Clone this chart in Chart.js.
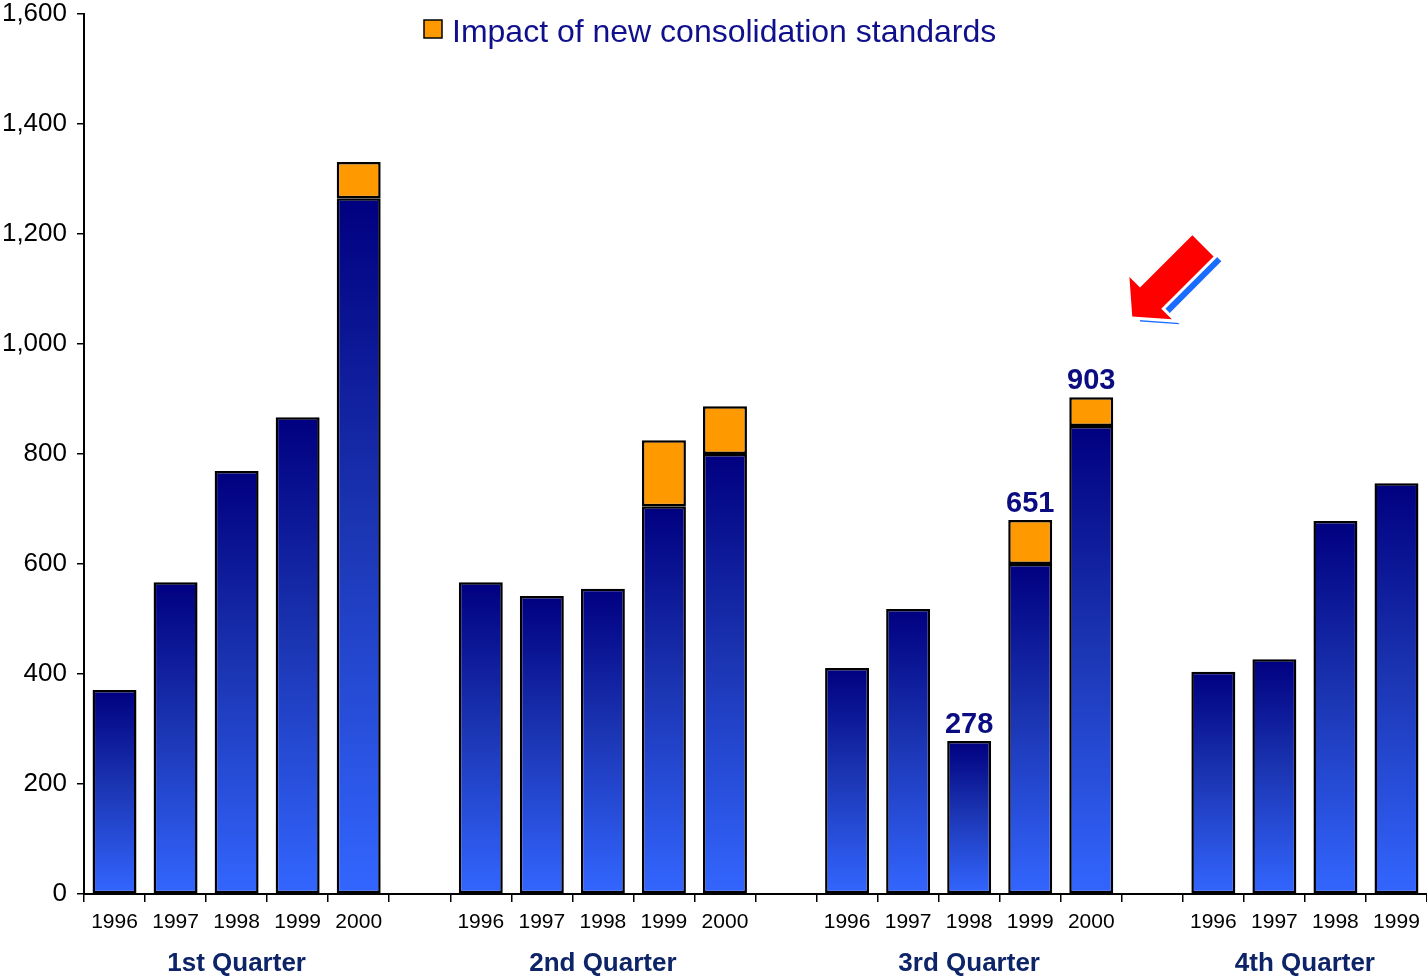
<!DOCTYPE html>
<html>
<head>
<meta charset="utf-8">
<script src="https://cdn.jsdelivr.net/npm/chart.js@4/dist/chart.umd.min.js"></script>
<style>
  html, body { margin: 0; padding: 0; background: #fff; }
  #wrap { width: 1427px; height: 978px; position: relative; }
</style>
</head>
<body>
<div id="wrap"><canvas id="myChart"></canvas></div>
<script>
// categories: 4 quarters x years, empty slots are the gaps between quarters
const years = ["1996", "1997", "1998", "1999", "2000", "",
               "1996", "1997", "1998", "1999", "2000", "",
               "1996", "1997", "1998", "1999", "2000", "",
               "1996", "1997", "1998", "1999"];
const quarters = ["1st Quarter", "2nd Quarter", "3rd Quarter", "4th Quarter"];
const quarterSpans = [[0, 4], [6, 10], [12, 16], [18, 21]];

const baseValues = [371, 567, 769, 867, 1265, null,
                    567, 542, 555, 705, 800, null,
                    411, 518, 278, 600, 851, null,
                    404, 427, 678, 747];
const impactValues = [null, null, null, null, 66, null,
                      null, null, null, 120, 87, null,
                      null, null, null, 80, 52, null,
                      null, null, null, null];
const valueLabels = [null, null, null, null, null, null,
                     null, null, null, null, null, null,
                     null, null, "278", "651", "903", null,
                     null, null, null, null];
const yTicks = [0, 200, 400, 600, 800, 1000, 1200, 1400, 1600];

const FONT = "'Liberation Sans', Arial, sans-serif";
const NAVY = "#0c0c82";

function blueGradient(context) {
  const chart = context.chart;
  const area = chart.chartArea;
  if (!area || context.raw == null) return "#3366ff";
  const y = chart.scales.y;
  const top = y.getPixelForValue(context.raw);
  const base = y.getPixelForValue(0);
  const g = chart.ctx.createLinearGradient(0, top, 0, base);
  g.addColorStop(0, "#000080");
  g.addColorStop(0.45, "#1a33b0");
  g.addColorStop(1, "#3366ff");
  return g;
}

// quarter names, value labels, legend and the arrow
const extras = {
  id: "extras",
  afterDraw(chart) {
    const c = chart.ctx;
    const x = chart.scales.x, y = chart.scales.y;
    const area = chart.chartArea;
    c.save();

    // quarter names under the years
    c.font = "bold 26px " + FONT;
    c.fillStyle = "#0d2468";
    c.textAlign = "center";
    c.textBaseline = "middle";
    quarterSpans.forEach((s, i) => {
      const cx = (x.getPixelForValue(s[0]) + x.getPixelForValue(s[1])) / 2;
      c.fillText(quarters[i], cx, area.bottom + 70);
    });

    // value labels above stacks
    c.font = "bold 29px " + FONT;
    c.fillStyle = NAVY;
    c.textBaseline = "alphabetic";
    valueLabels.forEach((lab, i) => {
      if (!lab) return;
      const total = (baseValues[i] || 0) + (impactValues[i] || 0);
      c.fillText(lab, x.getPixelForValue(i), y.getPixelForValue(total) - 8);
    });

    // legend
    const lx = area.left + 340, ly = area.top + 15;
    c.fillStyle = "#ff9900";
    c.fillRect(lx, ly - 9, 18, 18);
    c.strokeStyle = "#000";
    c.lineWidth = 1.5;
    c.strokeRect(lx, ly - 9, 18, 18);
    c.font = "32px " + FONT;
    c.fillStyle = "#10108c";
    c.textAlign = "left";
    c.textBaseline = "middle";
    c.fillText(chart.data.datasets[1].label, lx + 28, ly + 4);

    // arrow pointing at the 3rd quarter 2000 bar
    const tx = x.getPixelForValue(16) + 41;
    const ty = y.getPixelForValue(1050);
    const shape = (ctx2) => {
      ctx2.beginPath();
      ctx2.moveTo(0, 0);
      ctx2.lineTo(-26, -30);
      ctx2.lineTo(-26, -15);
      ctx2.lineTo(-100, -15);
      ctx2.lineTo(-100, 15);
      ctx2.lineTo(-26, 15);
      ctx2.lineTo(-26, 30);
      ctx2.closePath();
    };
    c.translate(tx, ty);
    c.rotate(-Math.PI / 4 + Math.PI);
    // blue shadow
    c.save();
    c.translate(-2, -9);
    shape(c);
    c.fillStyle = "#1a6cff";
    c.fill();
    c.restore();
    shape(c);
    c.strokeStyle = "#fff";
    c.lineWidth = 6;
    c.stroke();
    c.fillStyle = "#ff0000";
    c.fill();
    c.restore();
  }
};

const ctx = document.getElementById("myChart");
new Chart(ctx, {
  type: "bar",
  data: {
    labels: years,
    datasets: [
      {
        label: "Base",
        data: baseValues,
        backgroundColor: blueGradient,
        borderColor: "#000",
        borderWidth: 2.5,
        borderSkipped: false,
        barPercentage: 0.72,
        categoryPercentage: 1.0
      },
      {
        label: "Impact of new consolidation standards",
        data: impactValues,
        backgroundColor: "#ff9900",
        borderColor: "#000",
        borderWidth: 2.5,
        borderSkipped: false,
        barPercentage: 0.72,
        categoryPercentage: 1.0
      }
    ]
  },
  options: {
    responsive: true,
    maintainAspectRatio: false,
    animation: false,
    layout: { padding: { top: 14, right: 0, left: 0, bottom: 0 } },
    plugins: {
      legend: { display: false },
      tooltip: { enabled: false }
    },
    scales: {
      x: {
        stacked: true,
        grid: { drawOnChartArea: false, drawTicks: true, tickLength: 8, color: "#000", lineWidth: 1.5 },
        border: { display: true, color: "#000", width: 2 },
        ticks: { color: "#000", font: { family: FONT, size: 21 }, padding: 8, maxRotation: 0, autoSkip: false },
        afterFit(scale) { scale.height = 84; scale.paddingLeft = 0; scale.paddingRight = 0; }
      },
      y: {
        stacked: true,
        min: 0,
        max: 1600,
        afterBuildTicks(scale) { scale.ticks = yTicks.map(v => ({ value: v })); },
        grid: { drawOnChartArea: false, drawTicks: true, tickLength: 7, color: "#000", lineWidth: 1.5 },
        border: { display: true, color: "#000", width: 2 },
        ticks: {
          color: "#000",
          font: { family: FONT, size: 26 },
          padding: 10,
          callback: v => v.toLocaleString("en-US")
        },
        afterFit(scale) { scale.width = 84; scale.paddingTop = 0; scale.paddingBottom = 0; }
      }
    }
  },
  plugins: [extras]
});
</script>
</body>
</html>
